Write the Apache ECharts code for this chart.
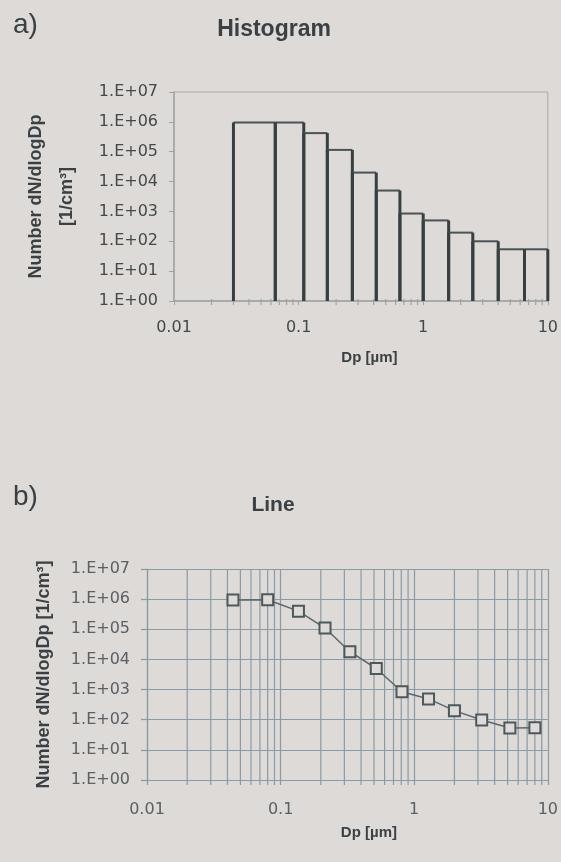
<!DOCTYPE html>
<html>
<head>
<meta charset="utf-8">
<style>
html, body { margin: 0; padding: 0; background: #dddad7; }
#main { width: 561px; height: 862px; }
</style>
<script src="https://cdn.jsdelivr.net/npm/echarts@6/dist/echarts.min.js"></script>
</head>
<body>
<div id="main"></div>
<script>
// size class edges [µm] and dN/dlogDp per class [1/cm3]
const binEdges = [0.03, 0.065, 0.11, 0.17, 0.27, 0.42, 0.65, 1.0, 1.6, 2.5, 4.0, 6.5, 10];
const binValues = [9.5e5, 9.5e5, 4.2e5, 1.15e5, 2.0e4, 5.0e3, 8.5e2, 5.0e2, 1.95e2, 1.0e2, 5.4e1, 5.4e1];
// line plot: class midpoints and values
const lineDp = [0.044, 0.08, 0.136, 0.215, 0.33, 0.52, 0.81, 1.28, 2.0, 3.2, 5.2, 8.0];
const lineValues = [9.3e5, 9.5e5, 4.0e5, 1.1e5, 1.8e4, 5.0e3, 8.5e2, 4.9e2, 2.0e2, 9.8e1, 5.3e1, 5.4e1];
// minor ticks / grid lines of the log x axis
const minorDp = [0.02, 0.03, 0.04, 0.05, 0.06, 0.07, 0.08, 0.09,
                 0.2, 0.3, 0.4, 0.5, 0.6, 0.7, 0.8, 0.9,
                 2, 3, 4, 5, 6, 7, 8, 9];

const chart = echarts.init(document.getElementById('main'));
const ink = '#3a4043';
const gridBlue = '#8a9ba6';
const tickFont = { fontFamily: 'DejaVu Sans', fontSize: 16 };

const expLabel = v => {
    const e = Math.round(Math.log10(v));
    return '1.E+' + (e < 10 ? '0' : '') + e;
};
const dpLabel = v => {
    const e = Math.round(Math.log10(v));
    return e < 0 ? v.toFixed(-e) : String(Math.round(v));
};

const option = {
    backgroundColor: '#dddad7',
    animation: false,
    title: [
        { text: 'a)', left: 8, top: 6, textStyle: { fontFamily: 'Liberation Sans', fontSize: 28, fontWeight: 'normal', color: ink } },
        { text: 'Histogram', left: 269, top: 13, textAlign: 'center', textStyle: { fontFamily: 'Liberation Sans', fontSize: 23, fontWeight: 'bold', color: ink } },
        { text: 'b)', left: 8, top: 478, textStyle: { fontFamily: 'Liberation Sans', fontSize: 28, fontWeight: 'normal', color: ink } },
        { text: 'Line', left: 268, top: 490, textAlign: 'center', textStyle: { fontFamily: 'Liberation Sans', fontSize: 21, fontWeight: 'bold', color: ink } }
    ],
    grid: [
        { left: 174, top: 92, width: 375, height: 209, show: true, borderColor: '#a8aaab', borderWidth: 1 },
        { left: 147, top: 569, width: 403, height: 211 }
    ],
    xAxis: [{
        gridIndex: 0, type: 'log', min: 0.01, max: 10,
        name: 'Dp [µm]', nameLocation: 'middle', nameGap: 49,
        nameTextStyle: { fontFamily: 'Liberation Sans', fontSize: 15, fontWeight: 'bold', color: ink, padding: [0, 0, 0, 17] },
        axisLine: { lineStyle: { color: '#a0a3a4', width: 1.5 } },
        axisTick: { length: 4, lineStyle: { color: '#a0a3a4' } },
        axisLabel: Object.assign({ color: '#44494c', margin: 19, formatter: dpLabel }, tickFont),
        splitLine: { show: false }
    }, {
        gridIndex: 1, type: 'log', min: 0.01, max: 10,
        name: 'Dp [µm]', nameLocation: 'middle', nameGap: 45,
        nameTextStyle: { fontFamily: 'Liberation Sans', fontSize: 15, fontWeight: 'bold', color: ink, padding: [0, 0, 0, 43] },
        axisLine: { lineStyle: { color: gridBlue, width: 1.2 } },
        axisTick: { length: 5, lineStyle: { color: gridBlue, width: 1.2 } },
        axisLabel: Object.assign({ color: '#5a6063', margin: 22, formatter: dpLabel }, tickFont),
        splitLine: { show: true, lineStyle: { color: gridBlue, width: 1.2 } }
    }],
    yAxis: [{
        gridIndex: 0, type: 'log', min: 1, max: 1e7,
        name: 'Number dN/dlogDp\n[1/cm³]', nameLocation: 'middle', nameRotate: 90, nameGap: 91,
        nameTextStyle: { fontFamily: 'Liberation Sans', fontSize: 18, fontWeight: 'bold', color: ink, lineHeight: 31, align: 'center' },
        axisLine: { show: true, lineStyle: { color: '#a0a3a4', width: 1.5 } },
        axisTick: { show: true, length: 5, lineStyle: { color: '#a0a3a4' } },
        axisLabel: Object.assign({ color: '#44494c', margin: 16, formatter: expLabel }, tickFont),
        splitLine: { show: false }
    }, {
        gridIndex: 1, type: 'log', min: 1, max: 1e7,
        name: 'Number dN/dlogDp [1/cm³]', nameLocation: 'middle', nameRotate: 90, nameGap: 94,
        nameTextStyle: { fontFamily: 'Liberation Sans', fontSize: 18, fontWeight: 'bold', color: ink },
        axisLine: { show: true, lineStyle: { color: gridBlue, width: 1.2 } },
        axisTick: { show: true, length: 6, lineStyle: { color: gridBlue, width: 1.2 } },
        axisLabel: Object.assign({ color: '#5a6063', margin: 17, formatter: expLabel }, tickFont),
        splitLine: { show: true, lineStyle: { color: gridBlue, width: 1.2 } }
    }],
    series: [{
        // minor ticks on the histogram x axis
        type: 'custom', xAxisIndex: 0, yAxisIndex: 0, silent: true,
        data: minorDp.map(d => [d]),
        encode: { x: 0 },
        renderItem: (params, api) => {
            const p = api.coord([api.value(0), 1]);
            return { type: 'line', shape: { x1: p[0], y1: p[1] - 2, x2: p[0], y2: p[1] + 4 }, style: { stroke: '#a0a3a4', lineWidth: 1.2 } };
        }
    }, {
        // histogram bars
        type: 'custom', xAxisIndex: 0, yAxisIndex: 0,
        data: binValues.map((v, i) => [binEdges[i], binEdges[i + 1], v]),
        encode: { x: [0, 1], y: 2 },
        renderItem: (params, api) => {
            const p0 = api.coord([api.value(0), api.value(2)]);
            const p1 = api.coord([api.value(1), 1]);
            return {
                type: 'group',
                children: [
                    { type: 'polyline', shape: { points: [[p0[0], p0[1]], [p1[0], p0[1]]] }, style: { stroke: '#4a5356', lineWidth: 2 } },
                    { type: 'line', shape: { x1: p0[0], y1: p0[1], x2: p0[0], y2: p1[1] }, style: { stroke: '#364043', lineWidth: 3 } },
                    { type: 'line', shape: { x1: p1[0], y1: p0[1], x2: p1[0], y2: p1[1] }, style: { stroke: '#364043', lineWidth: 3 } }
                ]
            };
        }
    }, {
        // minor vertical grid lines of the line chart
        type: 'custom', xAxisIndex: 1, yAxisIndex: 1, silent: true,
        data: minorDp.map(d => [d]),
        encode: { x: 0 },
        renderItem: (params, api) => {
            const b = api.coord([api.value(0), 1]);
            const t = api.coord([api.value(0), 1e7]);
            return { type: 'line', shape: { x1: b[0], y1: b[1] + 5, x2: t[0], y2: t[1] }, style: { stroke: gridBlue, lineWidth: 1.2 } };
        }
    }, {
        type: 'line', xAxisIndex: 1, yAxisIndex: 1,
        data: lineDp.map((d, i) => [d, lineValues[i]]),
        symbol: 'rect', symbolSize: 11,
        lineStyle: { color: '#5d6669', width: 1.5 },
        itemStyle: { color: '#dddad7', borderColor: '#4d585c', borderWidth: 2 }
    }]
};
chart.setOption(option);
</script>
</body>
</html>
